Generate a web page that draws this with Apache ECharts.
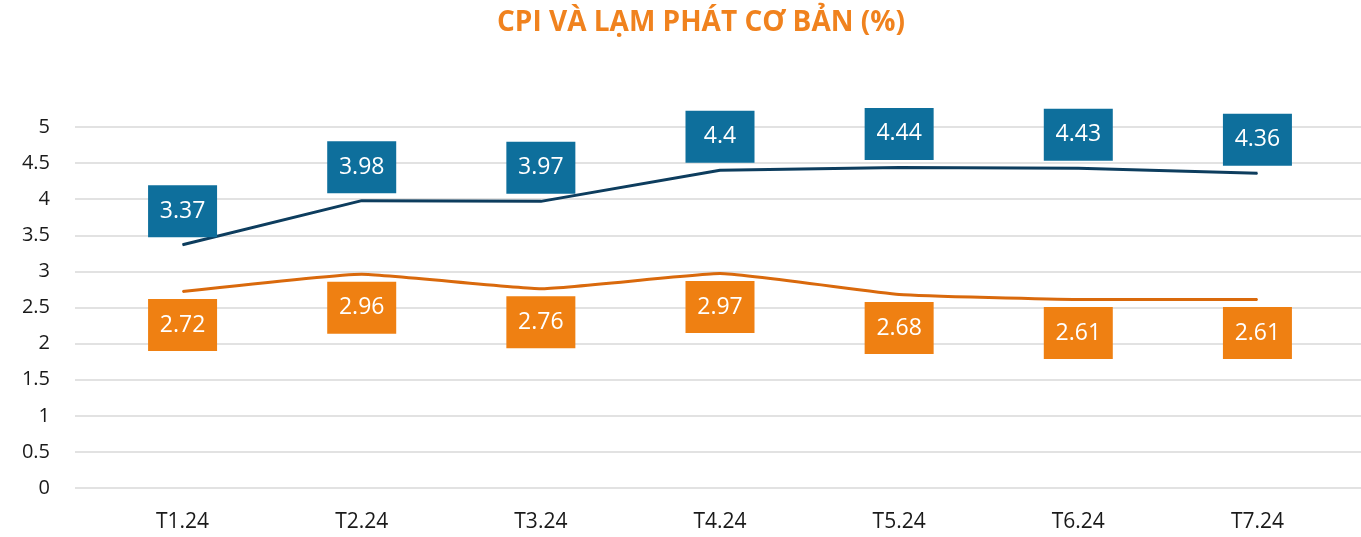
<!DOCTYPE html>
<html>
<head>
<meta charset="utf-8">
<script src="https://cdn.jsdelivr.net/npm/echarts@6/dist/echarts.min.js"></script>
<style>
    html, body { margin: 0; padding: 0; background: #ffffff; }
    #chart { width: 1361px; height: 537px; }
</style>
</head>
<body>
<div id="chart"></div>
<script>
    // du lieu
    var months = ['T1.24', 'T2.24', 'T3.24', 'T4.24', 'T5.24', 'T6.24', 'T7.24'];
    var cpi = [3.37, 3.98, 3.97, 4.4, 4.44, 4.43, 4.36];
    var coreInflation = [2.72, 2.96, 2.76, 2.97, 2.68, 2.61, 2.61];
    var yTicks = [0, 0.5, 1, 1.5, 2, 2.5, 3, 3.5, 4, 4.5, 5];

    var fontFamily = '"Open Sans", "Noto Sans", sans-serif';

    function boxLabel(pos, bg) {
        return {
            show: true,
            position: pos,
            distance: 7,
            width: 69,
            lineHeight: 24,
            padding: [14, 0, 14, 0],
            backgroundColor: bg,
            color: '#ffffff',
            fontSize: 23,
            fontFamily: fontFamily
        };
    }

    var chart = echarts.init(document.getElementById('chart'));
    var option = {
        animation: false,
        title: {
            text: 'CPI VÀ LẠM PHÁT CƠ BẢN (%)',
            left: 492,
            top: 4,
            textStyle: {
                color: '#F0821E',
                fontSize: 28,
                fontWeight: 'bold',
                fontFamily: fontFamily
            }
        },
        grid: [
            // nen: chi de ve duong luoi rong hon
            { left: 75, right: 0, top: 127, bottom: 49 },
            { left: 93, right: 14, top: 127, bottom: 49 }
        ],
        xAxis: [
            { type: 'category', gridIndex: 0, data: months, show: false },
            {
                type: 'category',
                gridIndex: 1,
                data: months,
                axisLine: { show: false },
                axisTick: { show: false },
                axisLabel: {
                    color: '#1a1a1a',
                    fontSize: 21,
                    margin: 24,
                    fontFamily: fontFamily
                }
            }
        ],
        yAxis: [
            {
                type: 'value',
                gridIndex: 0,
                min: yTicks[0],
                max: yTicks[yTicks.length - 1],
                interval: 0.5,
                axisLine: { show: false },
                axisTick: { show: false },
                splitLine: { lineStyle: { color: '#d9d9d9', width: 1.5 } },
                axisLabel: {
                    color: '#1a1a1a',
                    fontSize: 20,
                    margin: 25,
                    fontFamily: fontFamily
                }
            },
            {
                type: 'value',
                gridIndex: 1,
                min: yTicks[0],
                max: yTicks[yTicks.length - 1],
                interval: 0.5,
                show: false,
                splitLine: { show: false }
            }
        ],
        series: [
            {
                name: 'CPI',
                type: 'line',
                xAxisIndex: 1,
                yAxisIndex: 1,
                data: cpi,
                symbol: 'circle',
                symbolSize: 1,
                itemStyle: { color: '#0D3D5E' },
                lineStyle: { color: '#0D3D5E', width: 3 },
                label: boxLabel('top', '#0E6F9C'),
                z: 3
            },
            {
                name: 'Lạm phát cơ bản',
                type: 'line',
                xAxisIndex: 1,
                yAxisIndex: 1,
                data: coreInflation,
                smooth: 0.12,
                symbol: 'circle',
                symbolSize: 1,
                itemStyle: { color: '#D9690C' },
                lineStyle: { color: '#D9690C', width: 3 },
                label: boxLabel('bottom', '#EF8012'),
                z: 3
            }
        ]
    };
    chart.setOption(option);
</script>
</body>
</html>
